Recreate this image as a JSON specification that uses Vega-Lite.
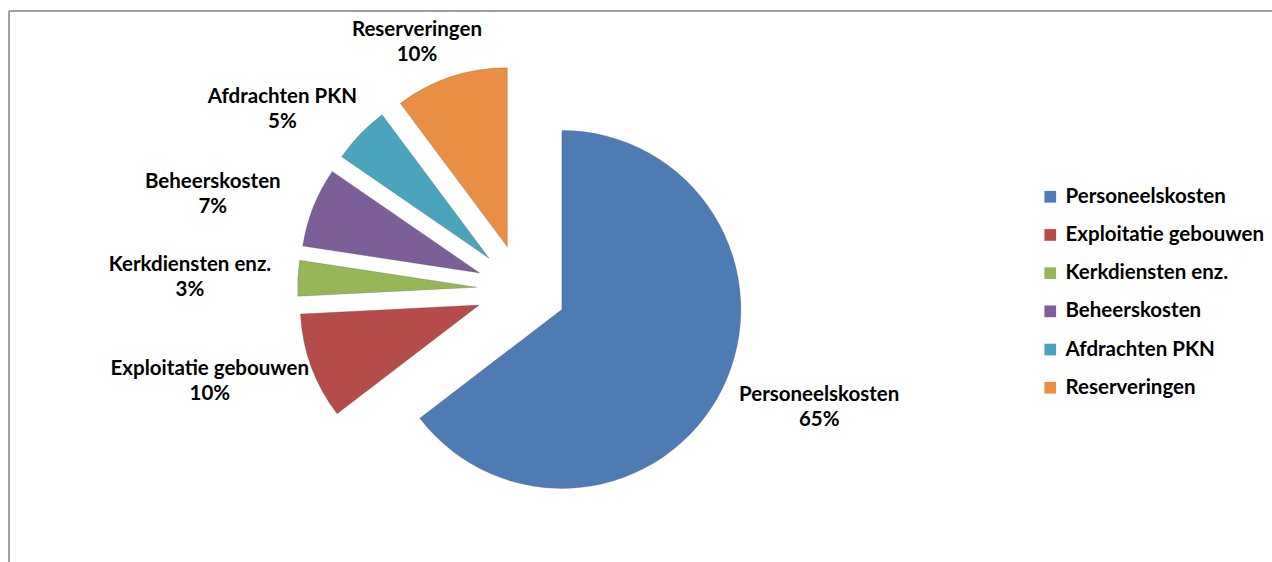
{
  "$schema": "https://vega.github.io/schema/vega-lite/v6.json",
  "width": 1263,
  "height": 551,
  "autosize": {"type": "none"},
  "padding": {"left": 9, "top": 11, "right": 0, "bottom": 0},
  "background": "white",
  "view": {"stroke": "#a0a0a0", "strokeWidth": 2, "strokeDash": [1263, 1814, 551, 0]},
  "config": {
    "font": "Lato"
  },
  "data": {
    "values": [
      {"category": "Personeelskosten", "share": 0.646},
      {"category": "Exploitatie gebouwen", "share": 0.096},
      {"category": "Kerkdiensten enz.", "share": 0.032},
      {"category": "Beheerskosten", "share": 0.072},
      {"category": "Afdrachten PKN", "share": 0.052},
      {"category": "Reserveringen", "share": 0.102}
    ]
  },
  "transform": [{"window": [{"op": "row_number", "as": "idx"}]}],
  "encoding": {
    "theta": {"field": "share", "type": "quantitative", "stack": true},
    "order": {"field": "idx", "type": "quantitative"}
  },
  "layer": [
    {
      "mark": {
        "type": "arc",
        "outerRadius": 179,
        "x": 512.5,
        "y": 278.5,
        "xOffset": {"expr": "45*sin(PI*(datum.share_start+datum.share_end))"},
        "yOffset": {"expr": "-45*cos(PI*(datum.share_start+datum.share_end))"},
        "stroke": "#555555",
        "strokeWidth": 0.6,
        "strokeOpacity": 0.45
      },
      "encoding": {
        "color": {
          "field": "category",
          "type": "nominal",
          "sort": ["Personeelskosten", "Exploitatie gebouwen", "Kerkdiensten enz.", "Beheerskosten", "Afdrachten PKN", "Reserveringen"],
          "scale": {
            "domain": ["Personeelskosten", "Exploitatie gebouwen", "Kerkdiensten enz.", "Beheerskosten", "Afdrachten PKN", "Reserveringen"],
            "range": ["#4E7BB4", "#B64C49", "#97B657", "#7C5F99", "#4AA4BB", "#E98E42"]
          },
          "legend": {
            "title": null,
            "orient": "none",
            "legendX": 1031,
            "legendY": 175.5,
            "symbolType": "square",
            "symbolSize": 137,
            "symbolStrokeWidth": 0,
            "labelFont": "Lato",
            "labelFontSize": 20.5,
            "labelFontWeight": "bold",
            "labelColor": "#000000",
            "labelOffset": 5,
            "rowPadding": 17.2,
            "labelLimit": 400
          }
        }
      }
    },
    {
      "mark": {
        "type": "text",
        "radius": 262,
        "x": 512.5,
        "y": 278.5,
        "dx": {"expr": "70*sin(PI*(datum.share_start+datum.share_end))"},
        "dy": -11,
        "font": "Lato",
        "fontSize": 20.5,
        "fontWeight": "bold",
        "fill": "#000000",
        "align": "center",
        "baseline": "middle"
      },
      "encoding": {
        "detail": {"field": "category", "type": "nominal"},
        "text": {"field": "category", "type": "nominal"}
      }
    },
    {
      "mark": {
        "type": "text",
        "radius": 262,
        "x": 512.5,
        "y": 278.5,
        "dx": {"expr": "70*sin(PI*(datum.share_start+datum.share_end))"},
        "dy": 14,
        "font": "Lato",
        "fontSize": 20.5,
        "fontWeight": "bold",
        "fill": "#000000",
        "align": "center",
        "baseline": "middle"
      },
      "encoding": {
        "detail": {"field": "category", "type": "nominal"},
        "text": {"field": "share", "type": "quantitative", "format": ".0%"}
      }
    }
  ]
}
